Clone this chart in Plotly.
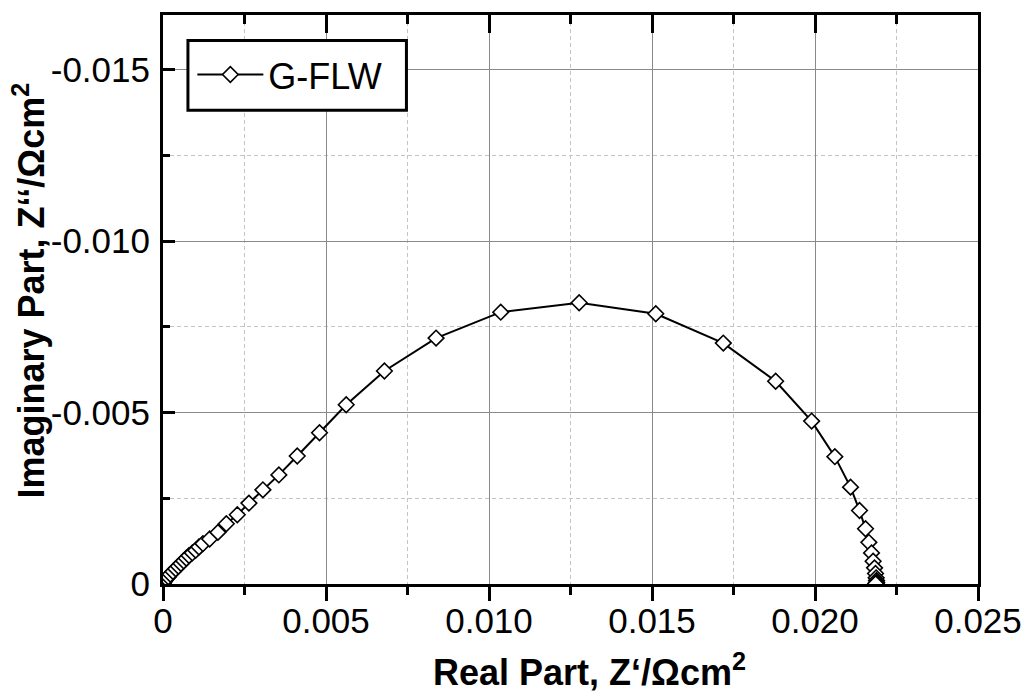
import plotly.graph_objects as go

# ---- data ----
z_real = [0.000003, 0.000010, 0.000021, 0.000052, 0.000104, 0.000165, 0.000227,
          0.000306, 0.000389, 0.000472, 0.000551, 0.000634, 0.000717, 0.000797,
          0.000901, 0.001002, 0.001103, 0.001225, 0.001431, 0.001685, 0.001942,
          0.002279, 0.002635, 0.003064, 0.003554, 0.004118, 0.004801, 0.005620,
          0.006792, 0.008376, 0.010360, 0.012766, 0.015116, 0.017187, 0.018793,
          0.019896, 0.020609, 0.021090, 0.021366, 0.021550, 0.021651, 0.021734,
          0.021783, 0.021826, 0.021856, 0.021875, 0.021887, 0.021893, 0.021880,
          0.021860]
z_imag = [-0.000010, -0.000028, -0.000052, -0.000093, -0.000151, -0.000209, -0.000285,
          -0.000363, -0.000442, -0.000517, -0.000596, -0.000674, -0.000750, -0.000828,
          -0.000907, -0.000983, -0.001081, -0.001177, -0.001314, -0.001506, -0.001759,
          -0.002020, -0.002360, -0.002747, -0.003183, -0.003735, -0.004413, -0.005230,
          -0.006215, -0.007175, -0.007930, -0.008204, -0.007884, -0.007029, -0.005916,
          -0.004753, -0.003715, -0.002826, -0.002145, -0.001613, -0.001215, -0.000907,
          -0.000663, -0.000471, -0.000305, -0.000180, -0.000102, -0.000050, -0.000020,
          -0.000010]
series_name = "G-FLW"

x_tickvals = [0, 0.005, 0.010, 0.015, 0.020, 0.025]
x_ticktext = ["0", "0.005", "0.010", "0.015", "0.020", "0.025"]
x_minor = [0.0025, 0.0075, 0.0125, 0.0175, 0.0225]
y_tickvals = [0, -0.005, -0.010, -0.015]
y_ticktext = ["0", "-0.005", "-0.010", "-0.015"]
y_minor = [-0.0025, -0.0075, -0.0125]

FONT = "Arial, Liberation Sans, sans-serif"

fig = go.Figure()
fig.add_trace(go.Scatter(
    x=z_real, y=z_imag, name=series_name, mode="lines+markers",
    line=dict(color="black", width=2),
    marker=dict(symbol="diamond", size=12, color="white",
                line=dict(color="black", width=1.6)),
))
# dummy trace so the top (inside-tick) axis is drawn
fig.add_trace(go.Scatter(x=[None], y=[None], xaxis="x2", showlegend=False,
                         hoverinfo="skip"))

major_grid = "#8a8a8a"
minor_grid = "#c4c4c4"

fig.update_layout(
    width=1034, height=695,
    margin=dict(l=163, r=54, t=13, b=111),
    paper_bgcolor="white", plot_bgcolor="white",
    font=dict(family=FONT, size=35, color="black"),
    showlegend=True,
    legend=dict(x=0.036, y=0.948, xanchor="left", yanchor="top",
                borderwidth=0, bgcolor="rgba(0,0,0,0)",
                font=dict(size=36, family=FONT), itemwidth=66,
                tracegroupgap=0),
    shapes=[
        dict(type="rect", xref="paper", yref="paper",
             x0=0.0306, x1=0.2987, y0=0.8328, y1=0.9553,
             line=dict(color="black", width=3), fillcolor="white", layer="above"),
    ],
    xaxis=dict(
        range=[0, 0.025], tickmode="array", tickvals=x_tickvals, ticktext=x_ticktext,
        ticks="outside", ticklen=14, tickwidth=3, tickcolor="black",
        showline=True, linecolor="black", linewidth=3, mirror=True,
        showgrid=True, gridcolor=major_grid, gridwidth=1.3, zeroline=False,
        ticklabelstandoff=-10,
        tickfont=dict(size=35, family=FONT),
        minor=dict(tickmode="array", tickvals=x_minor, ticks="outside", ticklen=8,
                   tickwidth=2.5, tickcolor="black", showgrid=True,
                   gridcolor=minor_grid, gridwidth=1, griddash="4px,3px"),
    ),
    xaxis2=dict(
        matches="x", overlaying="x", side="top", anchor="y",
        range=[0, 0.025], tickmode="array", tickvals=x_tickvals,
        ticks="inside", ticklen=18, tickwidth=3, tickcolor="black",
        showticklabels=False, showgrid=False, showline=False, zeroline=False,
        minor=dict(tickmode="array", tickvals=x_minor, ticks="inside", ticklen=9,
                   tickwidth=2.5, tickcolor="black", showgrid=False),
    ),
    yaxis=dict(
        range=[0, -0.0166], tickmode="array", tickvals=y_tickvals, ticktext=y_ticktext,
        ticks="inside", ticklen=12, tickwidth=3, tickcolor="black",
        showline=True, linecolor="black", linewidth=3, mirror=True,
        showgrid=True, gridcolor=major_grid, gridwidth=1.3, zeroline=False,
        ticklabelstandoff=3,
        tickfont=dict(size=35, family=FONT),
        minor=dict(tickmode="array", tickvals=y_minor, ticks="inside", ticklen=7,
                   tickwidth=2.5, tickcolor="black", showgrid=True,
                   gridcolor=minor_grid, gridwidth=1, griddash="4px,3px"),
    ),
    annotations=[
        dict(text="<b>Real Part, Z‘/Ωcm<sup>2</sup></b>", xref="paper", yref="paper",
             x=0.523, y=-0.152, xanchor="center", yanchor="middle", showarrow=False,
             font=dict(size=36, family=FONT)),
        dict(text="<b>Imaginary Part, Z‘‘/Ωcm<sup>2</sup></b>", xref="paper", yref="paper",
             x=-0.165, y=0.515, xanchor="center", yanchor="middle", showarrow=False,
             textangle=-90, font=dict(size=36, family=FONT)),
    ],
)

fig.write_html("out.html")
